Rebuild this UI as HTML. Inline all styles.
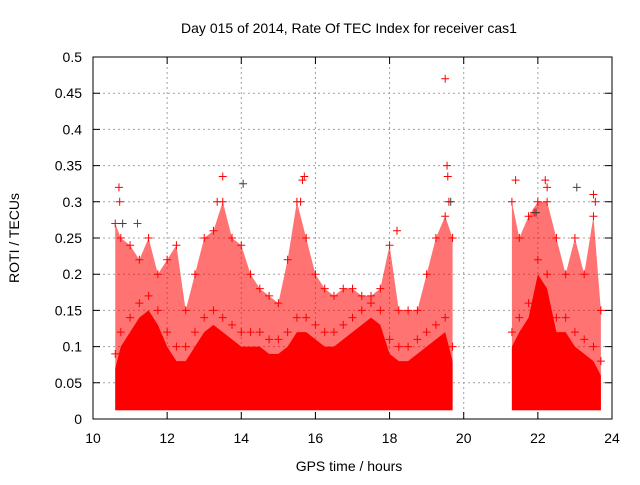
<!DOCTYPE html>
<html><head><meta charset="utf-8"><style>
body{margin:0;background:#fff}
text{font-family:"Liberation Sans",sans-serif;font-size:14px;fill:#000}
</style></head><body>
<svg id="chart" width="640" height="480" xmlns="http://www.w3.org/2000/svg">
<text x="349" y="33" text-anchor="middle">Day 015 of 2014, Rate Of TEC Index for receiver cas1</text>
<text transform="translate(19,238) rotate(-90)" text-anchor="middle">ROTI / TECUs</text>
<text x="349" y="471" text-anchor="middle">GPS time / hours</text>
<g id="grid"></g>
<g id="marks"></g>
<g id="axes"></g>
<rect x="93" y="57" width="519" height="362" fill="none" stroke="#000" stroke-width="1"/>
</svg>
<script>
const xTicks=[10,12,14,16,18,20,22,24];
const yTicks=[0,0.05,0.1,0.15,0.2,0.25,0.3,0.35,0.4,0.45,0.5];
const yTickLabels=["0","0.05","0.1","0.15","0.2","0.25","0.3","0.35","0.4","0.45","0.5"];
const seg1Hours=[10.6,10.75,11,11.25,11.5,11.75,12,12.25,12.5,12.75,13,13.25,13.5,13.75,14,14.25,14.5,14.75,15,15.25,15.5,15.75,16,16.25,16.5,16.75,17,17.25,17.5,17.75,18,18.25,18.5,18.75,19,19.25,19.5,19.7];
const seg1Dense=[0.07,0.1,0.12,0.14,0.15,0.13,0.1,0.08,0.08,0.1,0.12,0.13,0.12,0.11,0.1,0.1,0.1,0.09,0.09,0.1,0.12,0.12,0.11,0.1,0.1,0.11,0.12,0.13,0.14,0.13,0.09,0.08,0.08,0.09,0.1,0.11,0.12,0.08];
const seg1Sparse=[0.27,0.25,0.24,0.22,0.25,0.2,0.22,0.24,0.15,0.2,0.25,0.26,0.3,0.25,0.24,0.2,0.18,0.17,0.16,0.22,0.3,0.25,0.2,0.18,0.17,0.18,0.18,0.17,0.17,0.18,0.24,0.15,0.15,0.15,0.2,0.25,0.28,0.25];
const seg2Hours=[21.3,21.5,21.75,22,22.25,22.5,22.75,23,23.25,23.5,23.7];
const seg2Dense=[0.1,0.12,0.14,0.2,0.18,0.12,0.12,0.1,0.09,0.08,0.06];
const seg2Sparse=[0.3,0.25,0.28,0.3,0.3,0.25,0.2,0.25,0.2,0.28,0.15];
const outHours=[19.5,19.55,19.57,10.7,10.72,13.5,15.7,15.65,22.2,21.4,23.5,21.9,13.35,11.2,15.6,18.2,19.6,22.25,23.55];
const outValues=[0.47,0.35,0.335,0.32,0.3,0.335,0.335,0.33,0.33,0.33,0.31,0.285,0.3,0.27,0.3,0.26,0.3,0.32,0.3];
const grayHours=[14.05,23.05,19.65,21.95,10.8];
const grayValues=[0.325,0.32,0.3,0.285,0.27];
const floorVal=0.012;
const X=h=>93+(h-10)*519/14, Y=v=>419-v*362/0.5;
const NS="http://www.w3.org/2000/svg";
function mk(t,a,p){const e=document.createElementNS(NS,t);for(const k in a)e.setAttribute(k,a[k]);p.appendChild(e);return e;}
const grid=document.getElementById('grid'),axes=document.getElementById('axes'),marks=document.getElementById('marks');
xTicks.forEach(t=>{
 if(t>10&&t<24){const l=mk('line',{x1:X(t),x2:X(t),y1:57,y2:419,stroke:'#a0a0a0','stroke-dasharray':'2,3'},grid);
 
 }
 const tk=mk('path',{d:`M${X(t)},419V412M${X(t)},57V64`,stroke:'#000'},axes);
 
 
 const tx=mk('text',{x:X(t),y:443,'text-anchor':'middle'},axes);tx.textContent=t;
 
 
});
yTicks.forEach((t,i)=>{
 if(i>0&&i<yTicks.length-1){const l=mk('line',{x1:93,x2:612,y1:Y(t),y2:Y(t),stroke:'#a0a0a0','stroke-dasharray':'2,3'},grid);
 
 }
 const tk=mk('path',{d:`M93,${Y(t)}H100M612,${Y(t)}H605`,stroke:'#000'},axes);
 
 
 const tx=mk('text',{x:82,y:Y(t)+5,'text-anchor':'end'},axes);tx.textContent=yTickLabels[i];
 
 
});
function area(hs,vs,op,name){
 let d='M'+X(hs[0])+','+Y(floorVal);
 hs.forEach((h,i)=>d+=' L'+X(h)+','+Y(vs[i]));
 d+=' L'+X(hs[hs.length-1])+','+Y(floorVal)+' Z';
 const p=mk('path',{d:d,fill:'#ff0000','fill-opacity':op},marks);
 
 
}
function plus(h,v,c){
 const x=X(h),y=Y(v);
 const p=mk('path',{d:`M${x-4},${y}H${x+4}M${x},${y-4}V${y+4}`,stroke:c,'stroke-width':1},marks);
 
 
}
area(seg1Hours,seg1Sparse,0.55,'sparse-band-1');
area(seg2Hours,seg2Sparse,0.55,'sparse-band-2');
area(seg1Hours,seg1Dense,1,'dense-band-1');
area(seg2Hours,seg2Dense,1,'dense-band-2');
seg1Hours.forEach((h,i)=>{plus(h,seg1Sparse[i],'#ff0000');plus(h,seg1Dense[i]+0.02,'#ff0000');});
seg2Hours.forEach((h,i)=>{plus(h,seg2Sparse[i],'#ff0000');plus(h,seg2Dense[i]+0.02,'#ff0000');});
outHours.forEach((h,i)=>plus(h,outValues[i],'#ff0000'));
grayHours.forEach((h,i)=>plus(h,grayValues[i],'#404040'));
</script>
</body></html>
